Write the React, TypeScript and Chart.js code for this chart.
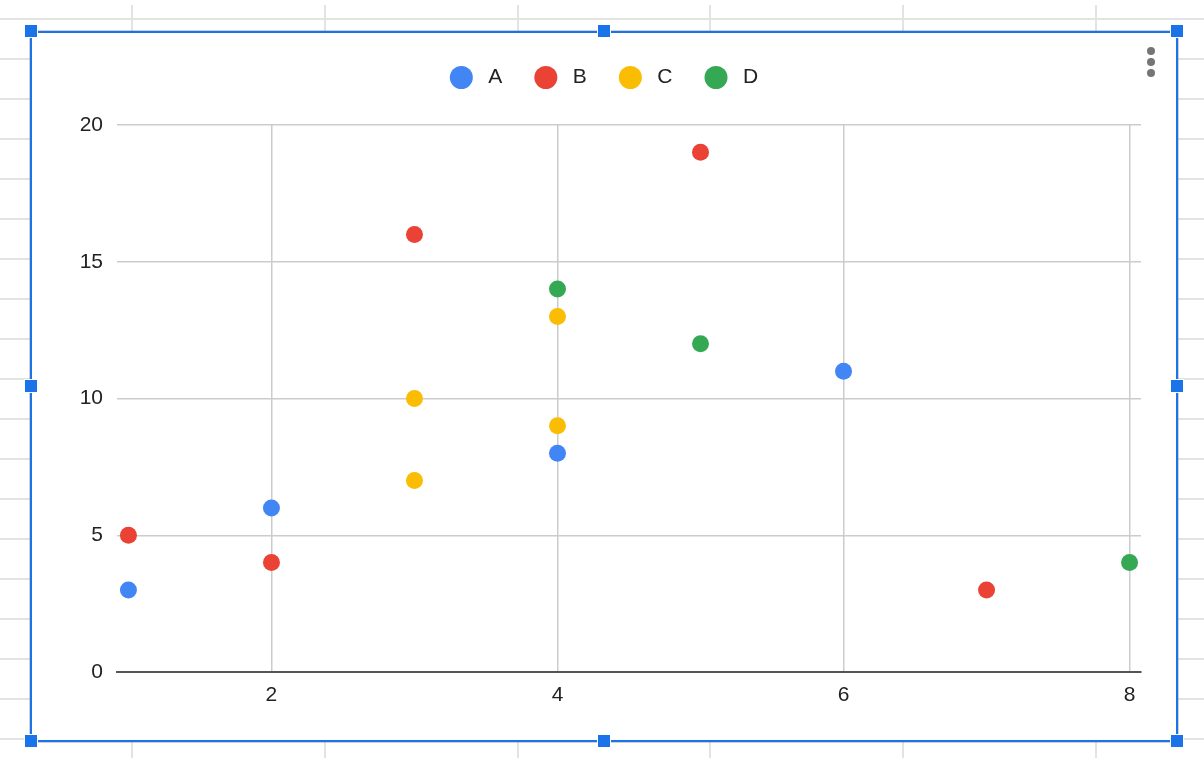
import React, { useEffect, useRef } from "react";
import { Chart, registerables } from "chart.js";

Chart.register(...registerables);

// ---- data ----
const seriesNames = ["A", "B", "C", "D"];
const seriesColors = ["#4285F4", "#EA4335", "#FBBC04", "#34A853"];
const aX = [1, 2, 4, 6];
const aY = [3, 6, 8, 11];
const bX = [1, 2, 3, 5, 7];
const bY = [5, 4, 16, 19, 3];
const cX = [3, 3, 4, 4];
const cY = [10, 7, 13, 9];
const dX = [4, 5, 8];
const dY = [14, 12, 4];
const xTickValues = [2, 4, 6, 8];
const yTickValues = [0, 5, 10, 15, 20];
const xRange = [0.92, 8.08];
const yRange = [0, 20];

const FONT = "'Liberation Sans', Arial, sans-serif";

const legendPlugin = {
  id: "gLegend",
  afterDraw(chart: any) {
    const ctx = chart.ctx as CanvasRenderingContext2D;
    ctx.save();
    ctx.font = `21px ${FONT}`;
    const r = 11.5;
    const gapText = 15.5;
    const gapItem = 32;
    const items = chart.data.datasets.map((ds: any) => ({
      label: ds.label,
      color: ds.backgroundColor,
      w: 2 * r + gapText + ctx.measureText(ds.label).width,
    }));
    const total =
      items.reduce((s: number, it: any) => s + it.w, 0) + gapItem * (items.length - 1);
    let x = (chart.width - total) / 2;
    const y = 44.5;
    items.forEach((it: any) => {
      ctx.beginPath();
      ctx.fillStyle = it.color;
      ctx.arc(x + r, y, r, 0, Math.PI * 2);
      ctx.fill();
      ctx.fillStyle = "#222222";
      ctx.textAlign = "left";
      ctx.textBaseline = "middle";
      ctx.fillText(it.label, x + 2 * r + gapText, y);
      x += it.w + gapItem;
    });
    ctx.restore();
  },
};

function makePoints(xs: number[], ys: number[]) {
  return xs.map((x, i) => ({ x, y: ys[i] }));
}

export default function App() {
  const ref = useRef<HTMLCanvasElement | null>(null);

  useEffect(() => {
    if (!ref.current) return;
    const pts = [makePoints(aX, aY), makePoints(bX, bY), makePoints(cX, cY), makePoints(dX, dY)];
    const chart = new Chart(ref.current, {
      type: "scatter",
      data: {
        datasets: seriesNames.map((name, i) => ({
          label: name,
          data: pts[i],
          backgroundColor: seriesColors[i],
          borderColor: seriesColors[i],
          borderWidth: 0,
          pointRadius: 8.5,
          pointHoverRadius: 8.5,
        })),
      },
      options: {
        responsive: false,
        animation: false,
        layout: { padding: { top: 92, right: 35, left: 0, bottom: 0 } },
        plugins: {
          legend: { display: false },
          tooltip: { enabled: false },
        },
        scales: {
          x: {
            type: "linear",
            min: xRange[0],
            max: xRange[1],
            afterFit: (s: any) => {
              s.height = 68;
            },
            afterBuildTicks: (s: any) => {
              s.ticks = xTickValues.map((v) => ({ value: v }));
            },
            ticks: {
              includeBounds: false,
              stepSize: 2,
              padding: 11,
              color: "#222222",
              font: { family: FONT, size: 21 },
            },
            grid: {
              color: "#cccccc",
              lineWidth: 1.5,
              drawTicks: false,
            },
            border: { display: true, color: "#555555", width: 2 },
          },
          y: {
            type: "linear",
            min: yRange[0],
            max: yRange[1],
            afterFit: (s: any) => {
              s.width = 85;
            },
            afterBuildTicks: (s: any) => {
              s.ticks = yTickValues.map((v) => ({ value: v }));
            },
            ticks: {
              stepSize: 5,
              padding: 14,
              color: "#222222",
              font: { family: FONT, size: 21 },
            },
            grid: {
              color: (c: any) => (c.tick && c.tick.value === 0 ? "rgba(0,0,0,0)" : "#cccccc"),
              lineWidth: 1.5,
              drawTicks: false,
            },
            border: { display: false },
          },
        },
      },
      plugins: [legendPlugin],
    });
    return () => chart.destroy();
  }, []);

  const hLines: number[] = [];
  for (let k = 0; k < 19; k++) hLines.push(19 + 40 * k);
  const vLines: number[] = [];
  for (let k = 0; k < 6; k++) vLines.push(132 + 192.8 * k);

  const handles: [number, number][] = [
    [31, 31], [604, 31], [1177, 31],
    [31, 386], [1177, 386],
    [31, 741], [604, 741], [1177, 741],
  ];

  return (
    <div
      style={{
        position: "fixed",
        left: 0,
        top: 0,
        width: 1204,
        height: 758,
        background: "#ffffff",
        overflow: "hidden",
      }}
    >
      {hLines.map((y, i) => (
        <div
          key={"h" + i}
          style={{ position: "absolute", left: 0, top: y - 1, width: 1204, height: 2, background: "#e3e3e3" }}
        />
      ))}
      {vLines.map((x, i) => (
        <div
          key={"v" + i}
          style={{ position: "absolute", left: x - 1, top: 5, width: 2, height: 760, background: "#e3e3e3" }}
        />
      ))}
      <div
        style={{
          position: "absolute",
          left: 30,
          top: 31,
          width: 1148,
          height: 711,
          boxSizing: "border-box",
          border: "2px solid #1a73e8",
          boxShadow: "0 0 0 1px rgba(120,120,120,0.35)",
          background: "#ffffff",
        }}
      />
      <div style={{ position: "absolute", left: 32, top: 33, width: 1144, height: 707 }}>
        <canvas ref={ref} width={1144} height={707} style={{ width: 1144, height: 707, display: "block" }} />
      </div>
      {[51, 62, 73].map((y, i) => (
        <div
          key={"d" + i}
          style={{
            position: "absolute",
            left: 1147,
            top: y - 4,
            width: 8,
            height: 8,
            borderRadius: 4,
            background: "#757575",
          }}
        />
      ))}
      {handles.map(([x, y], i) => (
        <div
          key={"k" + i}
          style={{
            position: "absolute",
            left: x - 7,
            top: y - 7,
            width: 14,
            height: 14,
            boxSizing: "border-box",
            border: "1px solid #ffffff",
            background: "#1a73e8",
          }}
        />
      ))}
    </div>
  );
}
